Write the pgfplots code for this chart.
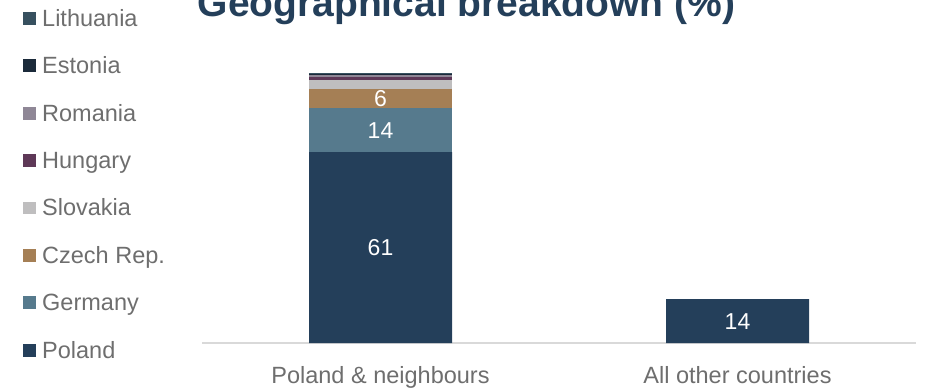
\documentclass[border=0pt]{standalone}
\usepackage{pgfplots}
\pgfplotsset{compat=1.18}
\usepackage{fontspec}
\setmainfont{Liberation Sans}
\definecolor{cPol}{HTML}{243F5A}
\definecolor{cGer}{HTML}{567A8D}
\definecolor{cCze}{HTML}{A57F55}
\definecolor{cSlo}{HTML}{BFBEBF}
\definecolor{cHun}{HTML}{5E3857}
\definecolor{cRom}{HTML}{8F8796}
\definecolor{cEst}{HTML}{1B2A3A}
\definecolor{cLit}{HTML}{37505F}
\definecolor{labgray}{HTML}{6E6E6E}
\definecolor{axgray}{HTML}{D9D9D9}
\tikzset{barlab/.style={text=white, font=\fontsize{23}{27}\selectfont, inner sep=0pt}}
\begin{document}
\begin{tikzpicture}
\useasboundingbox (0,0) rectangle (925pt,-388pt);
\clip (0,0) rectangle (925pt,-388pt);
\node[anchor=base, text=cPol, font=\fontsize{39}{44}\selectfont\bfseries, inner sep=0pt] at (466.5pt,-16.7pt) {Geographical breakdown (\%)};
\begin{axis}[
  at={(202pt,-343pt)}, anchor=south west,
  scale only axis, width=714pt, height=313pt,
  ybar stacked, bar width=143pt,
  xmin=-0.5, xmax=1.5, ymin=0, ymax=100,
  enlargelimits=false,
  axis y line=none, axis x line*=bottom,
  x axis line style={draw=axgray, line width=2pt, -},
  xtick={0,1}, xticklabels={Poland \& neighbours, All other countries},
  major tick length=0pt,
  xticklabel style={text=labgray, font=\fontsize{23.5}{28}\selectfont, inner sep=0pt, text height=17pt, text depth=0pt, yshift=-23pt},
  legend style={at={(-0.2507,1.0661)}, anchor=north west, draw=none, fill=none,
    inner sep=0pt, outer sep=0pt, font=\fontsize{23.5}{28}\selectfont, text=labgray,
    row sep=25.4pt,
    nodes={inner sep=0pt, text height=17pt, text depth=5pt},
    /tikz/every odd column/.append style={column sep=6.5pt}},
  legend cell align=left,
  reverse legend,
  legend image code/.code={\fill[#1] (0pt,-4.4pt) rectangle (12.7pt,8.3pt);},
  clip=false,
  after end axis/.code={
    \node[barlab] at (axis cs:0,30.5) {61};
    \node[barlab] at (axis cs:0,68) {14};
    \node[barlab] at (axis cs:0,78) {6};
    \node[barlab] at (axis cs:1,7) {14};
  },
]
\addplot[fill=cPol, draw=none] coordinates {(0,61) (1,14)};
\addlegendentry{Poland}
\addplot[fill=cGer, draw=none] coordinates {(0,14) (1,0)};
\addlegendentry{Germany}
\addplot[fill=cCze, draw=none] coordinates {(0,6) (1,0)};
\addlegendentry{Czech Rep.}
\addplot[fill=cSlo, draw=none] coordinates {(0,2.9) (1,0)};
\addlegendentry{Slovakia}
\addplot[fill=cHun, draw=none] coordinates {(0,1.2) (1,0)};
\addlegendentry{Hungary}
\addplot[fill=cRom, draw=none] coordinates {(0,0.5) (1,0)};
\addlegendentry{Romania}
\addplot[fill=cEst, draw=none] coordinates {(0,0.4) (1,0)};
\addlegendentry{Estonia}
\addplot[fill=cLit, draw=none] coordinates {(0,0.3) (1,0)};
\addlegendentry{Lithuania}
\end{axis}
\end{tikzpicture}
\end{document}
